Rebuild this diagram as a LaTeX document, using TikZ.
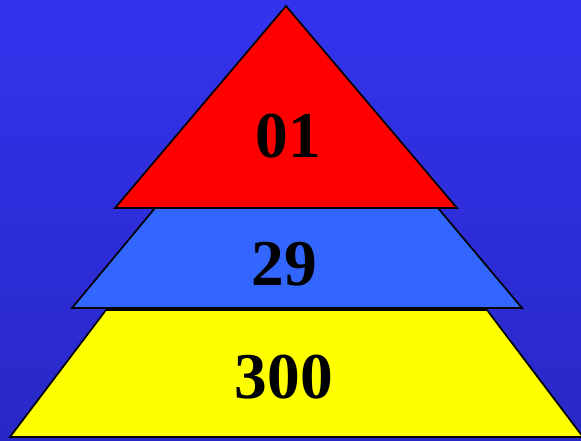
\documentclass[tikz,border=0pt]{standalone}
\usepackage{fontspec}
\setmainfont{Liberation Serif}
\usepackage{tikz}
\tikzset{tier/.style={draw=black,line width=2.4pt,line join=miter},
  num/.style={font=\fontsize{93}{93}\selectfont\bfseries,text=black,inner sep=0pt}}
\definecolor{bgtop}{RGB}{51,51,238}
\definecolor{bgbot}{RGB}{40,40,198}
\definecolor{midblue}{RGB}{51,102,255}
\definecolor{baseyellow}{RGB}{255,255,0}
\definecolor{topred}{RGB}{255,0,0}

\begin{document}
\begin{tikzpicture}[x=0.5mm,y=-0.5mm]
\shade[top color=bgtop,bottom color=bgbot] (0,0) rectangle (581,440);
\useasboundingbox (0,0) rectangle (581,440);
\fill[tier,fill=baseyellow] (106,310)--(487,310)--(583,437)--(10,437)--cycle;
\fill[tier,fill=midblue] (155,208)--(438,208)--(522,308)--(72,308)--cycle;
\fill[tier,fill=topred] (286,6)--(457,208)--(115,208)--cycle;
\node[num] (top) at (288,136) {01};
\node[num] (mid) at (284,264) {29};
\node[num] (base) at (284,377) {300};
\end{tikzpicture}
\end{document}
